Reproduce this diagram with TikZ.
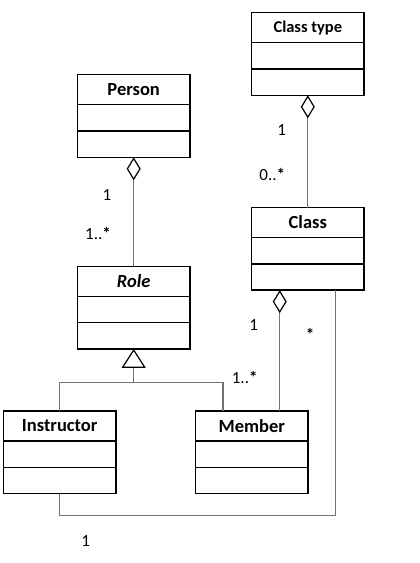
\documentclass[tikz,border=0pt]{standalone}
\usepackage{fontspec}
\setmainfont{Carlito}
\usetikzlibrary{positioning,arrows.meta}

\begin{document}
\begin{tikzpicture}[x=1pt, y=-1pt,
    box/.style={rectangle, draw, line width=1.4pt, minimum width=112.7pt, inner sep=0pt, outer sep=0pt},
    head/.style={box, minimum height=30pt, font=\fontsize{18.5}{20}\selectfont\bfseries},
    part/.style={box, minimum height=26.3pt},
    assoc/.style={draw=black!55, line width=1.2pt},
    agg/.style={assoc, {Diamond[length=23pt, width=14pt, color=black, fill=white]}-},
    gen/.style={assoc, -{Triangle[length=19pt, width=24pt, color=black, fill=white]}},
    mult/.style={anchor=base, inner sep=0pt, font=\fontsize{17}{19}\selectfont}]

    \useasboundingbox (0, 0) rectangle (420, 563);

    % Draw classes
    \node[head, font=\fontsize{16.5}{18}\selectfont\bfseries] (type) at (307.8, 27.7) {Class type};
    \node[part, below=0pt of type] (typea) {};
    \node[part, below=0pt of typea] (typeo) {};

    \node[head] (person) at (133.7, 89.7) {Person};
    \node[part, below=0pt of person] (persona) {};
    \node[part, below=0pt of persona] (persono) {};

    \node[head] (class) at (307.8, 222.5) {Class};
    \node[part, below=0pt of class] (classa) {};
    \node[part, below=0pt of classa] (classo) {};

    \node[head, font=\fontsize{18.5}{20}\selectfont\bfseries\itshape] (role) at (133.7, 281.3) {Role};
    \node[part, below=0pt of role] (rolea) {};
    \node[part, below=0pt of rolea] (roleo) {};

    \node[head] (instr) at (59.7, 426) {Instructor};
    \node[part, below=0pt of instr] (instra) {};
    \node[part, below=0pt of instra] (instro) {};

    \node[head] (member) at (251.8, 426) {Member};
    \node[part, below=0pt of member] (membera) {};
    \node[part, below=0pt of membera] (membero) {};

    % Draw relations
    \draw[agg] (persono.south) -- (role.north);
    \draw[agg] (typeo.south) -- (class.north);
    \draw[agg] ([xshift=28.3pt]classo.south west) -- ([xshift=28.3pt]classo.south west |- member.north);
    \draw[assoc] ([xshift=-28.3pt]classo.south east) |- ([yshift=-21.7pt]instro.south) -- (instro.south);
    \coordinate (split) at (133.7, 382.3);
    \draw[gen] (split) -- (roleo.south);
    \draw[assoc] (instr.north) |- (split) -| ([xshift=27.6pt]member.north west);

    % Multiplicities
    \node[mult] (m1) at (107, 200) {1};
    \node[mult] (m2) at (98, 239.3) {1..\textbf{*}};
    \node[mult] (m3) at (281.7, 135) {1};
    \node[mult] (m4) at (272.3, 180) {0..\textbf{*}};
    \node[mult] (m5) at (253.7, 330) {1};
    \node[mult] (m6) at (310, 340) {\textbf{*}};
    \node[mult] (m7) at (244.7, 383.3) {1..\textbf{*}};
    \node[mult] (m8) at (85.8, 546) {1};

\end{tikzpicture}
\end{document}
